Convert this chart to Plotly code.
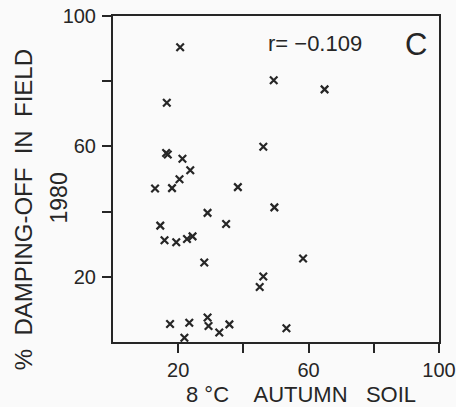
import plotly.graph_objects as go

# 8 °C autumn soil test (% damping-off) vs % damping-off in field 1980
soil_8c = [20.6, 49.3, 64.9, 16.5, 46.1, 16.3, 16.8, 21.3, 23.7, 20.4,
           12.9, 18.1, 38.3, 49.5, 29.0, 34.7, 14.5, 15.8, 19.4, 22.7,
           24.4, 28.0, 58.3, 46.1, 45.0, 17.5, 23.4, 29.0, 29.3, 35.7,
           32.6, 53.2, 21.9]
field_1980 = [90.4, 80.3, 77.5, 73.4, 59.9, 58.0, 57.5, 56.2, 52.7, 49.9,
              47.1, 47.2, 47.5, 41.3, 39.6, 36.2, 35.7, 31.2, 30.6, 31.6,
              32.4, 24.4, 25.6, 20.1, 16.9, 5.5, 5.9, 7.5, 4.9, 5.4,
              2.9, 4.2, 1.3]

tick_vals = [20, 40, 60, 80, 100]
tick_text = ["20", "", "60", "", "100"]

r_label = "r= \u22120.109"
panel_label = "C"
x_title = "8\u00a0\u00b0C\u00a0\u00a0\u00a0\u00a0AUTUMN\u00a0\u00a0\u00a0SOIL"
y_title = "%\u00a0\u00a0DAMPING-OFF\u00a0\u00a0IN\u00a0\u00a0FIELD"
y_title2 = "1980"

ink = "#262626"
font_family = "Liberation Sans, Arial, sans-serif"

fig = go.Figure()
fig.add_trace(go.Scatter(
    x=soil_8c, y=field_1980, mode="markers",
    marker=dict(symbol="x-thin", size=7.5, line=dict(width=2.2, color=ink), color=ink),
    showlegend=False, hoverinfo="x+y"))

axis_common = dict(
    range=[0, 100], tickmode="array", tickvals=tick_vals, ticktext=tick_text,
    ticks="outside", ticklen=9, tickwidth=2, tickcolor=ink,
    showline=True, linewidth=2, linecolor=ink, mirror=True,
    showgrid=False, zeroline=False, automargin=False,
    tickfont=dict(family=font_family, size=20, color=ink),
)

fig.update_layout(
    width=456, height=407,
    margin=dict(l=113, r=17, t=16, b=65),
    paper_bgcolor="#fafafa", plot_bgcolor="#fafafa",
    xaxis=dict(**axis_common, ticklabelstandoff=0),
    yaxis=dict(**axis_common, ticklabelstandoff=2),
    font=dict(family=font_family, color=ink),
)

annotations = [
    dict(text=r_label, x=0.62, y=0.917, font=dict(size=22)),
    dict(text=panel_label, x=0.929, y=0.912, font=dict(size=31)),
    dict(text=x_title, x=0.577, y=-0.16, font=dict(size=22)),
    dict(text=y_title, x=-0.272, y=0.405, textangle=-90, font=dict(size=24)),
    dict(text=y_title2, x=-0.167, y=0.442, textangle=-90, font=dict(size=23)),
]
for a in annotations:
    fig.add_annotation(xref="paper", yref="paper", showarrow=False,
                       xanchor="center", yanchor="middle", **a)

fig.write_html("out.html")
